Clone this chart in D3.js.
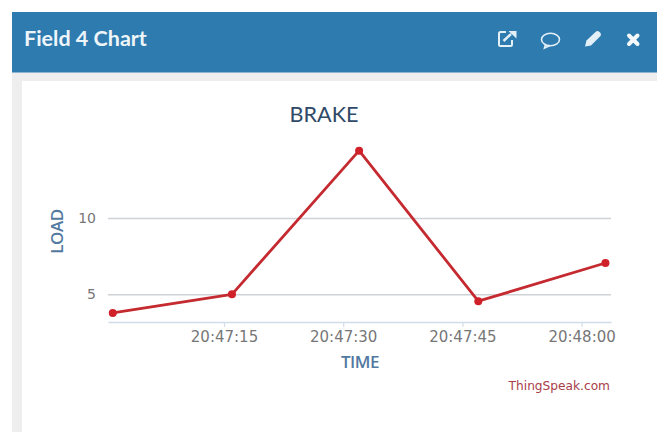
<!DOCTYPE html>
<html>
<head>
<meta charset="utf-8">
<script src="https://cdn.jsdelivr.net/npm/d3@7"></script>
<style>
  html, body { margin: 0; padding: 0; background: #fff; overflow: hidden; }
  svg { display: block; }
</style>
</head>
<body>
<svg id="chart" width="657" height="432"></svg>
<script>
const times = ['20:47:01', '20:47:16', '20:47:32', '20:47:47', '20:48:03'];
const loads = [3.78, 5, 14.4, 4.55, 7.05];
const timeTicks = ['20:47:15', '20:47:30', '20:47:45', '20:48:00'];
const loadTicks = [5, 10];
const timeDomain = ['20:47:00.400', '20:48:03.700'];
const loadDomain = [3.19, 15];

const parseTime = d3.timeParse('%H:%M:%S');
const parseTimeMs = d3.timeParse('%H:%M:%S.%L');
const fmt = d3.timeFormat('%H:%M:%S');

const svg = d3.select('#chart');

// Panel frame
svg.append('rect').attr('x', 12).attr('y', 12).attr('width', 645).attr('height', 420).attr('fill', '#eeeeee');
svg.append('rect').attr('x', 12).attr('y', 12).attr('width', 645).attr('height', 60.5).attr('fill', '#2e7bb0');
svg.append('rect').attr('x', 22).attr('y', 81).attr('width', 635).attr('height', 351).attr('fill', '#ffffff');

svg.append('text')
  .attr('x', 24).attr('y', 45.5)
  .attr('font-family', 'Lato, "Open Sans", sans-serif')
  .attr('font-weight', 700).attr('font-size', 21.5)
  .attr('fill', '#eef5f9')
  .text('Field 4 Chart');

// Header icons
const icons = svg.append('g').attr('fill', 'none').attr('stroke', '#e4f0f7');
// external link
const ext = icons.append('g').attr('transform', 'translate(498,31)').attr('stroke-width', 2);
ext.append('path').attr('d', 'M8 1H2.5Q1 1 1 2.5V13.5Q1 15 2.5 15H12.5Q14 15 14 13.5V9');
ext.append('path').attr('d', 'M5.5 10L13 3').attr('stroke-width', 2.4);
ext.append('path').attr('d', 'M10.5 0H18.5V7.5L10.5 0Z').attr('fill', '#e4f0f7').attr('stroke', 'none');
// comment
const bubble = icons.append('g').attr('transform', 'translate(550.5,39.5)').attr('stroke-width', 1.6);
bubble.append('ellipse').attr('rx', 9).attr('ry', 6.2);
bubble.append('path').attr('d', 'M-5 5L-6 8.5L-0.5 6');
// pencil
icons.append('path')
  .attr('d', 'M585 46.5L586.5 40.5L596 31.5Q597.5 30.5 599 31.5L600.5 33Q601.5 34.5 600.5 36L591 45.5Z')
  .attr('fill', '#e4f0f7').attr('stroke', 'none');
// close
icons.append('path')
  .attr('d', 'M629 35.5L637.5 44M637.5 35.5L629 44')
  .attr('stroke', '#f4f8fb').attr('stroke-width', 4).attr('stroke-linecap', 'round');

// Scales
const x = d3.scaleTime()
  .domain(timeDomain.map(parseTimeMs))
  .range([108, 611]);
const y = d3.scaleLinear()
  .domain(loadDomain)
  .range([322, 141.5]);

const data = times.map((t, i) => ({ time: parseTime(t), load: loads[i] }));

// Gridlines and y labels
const yAxis = d3.axisLeft(y)
  .tickValues(loadTicks)
  .tickSize(-(x.range()[1] - x.range()[0]))
  .tickPadding(12);
const yG = svg.append('g').attr('transform', 'translate(108,0)').call(yAxis);
yG.select('.domain').remove();
yG.selectAll('.tick line').attr('stroke', '#cfd2d6').attr('stroke-width', 1.5);
yG.selectAll('.tick text')
  .attr('font-family', '"DejaVu Sans", sans-serif').attr('font-size', 14)
  .attr('fill', '#777777');

// X axis
const xAxis = d3.axisBottom(x)
  .tickValues(timeTicks.map(parseTime))
  .tickFormat(fmt)
  .tickSize(5)
  .tickSizeOuter(0)
  .tickPadding(4);
const xG = svg.append('g').attr('transform', 'translate(0,322)').call(xAxis);
xG.select('.domain').attr('stroke', '#d3dde9').attr('stroke-width', 1.5);
xG.selectAll('.tick line').attr('stroke', '#d3dde9').attr('stroke-width', 1.2);
xG.selectAll('.tick text')
  .attr('font-family', '"DejaVu Sans", sans-serif').attr('font-size', 15)
  .attr('fill', '#777777');

// Series
svg.append('path')
  .datum(data)
  .attr('fill', 'none')
  .attr('stroke', '#c42a30')
  .attr('stroke-width', 2.8)
  .attr('stroke-linejoin', 'round')
  .attr('d', d3.line().x(d => x(d.time)).y(d => y(d.load)));

svg.selectAll('.pt')
  .data(data)
  .join('circle')
  .attr('class', 'pt')
  .attr('cx', d => x(d.time))
  .attr('cy', d => y(d.load))
  .attr('r', 4)
  .attr('fill', '#d0202a');

// Titles
svg.append('text')
  .attr('x', 324).attr('y', 122)
  .attr('text-anchor', 'middle')
  .attr('font-family', 'Lato, "Open Sans", sans-serif')
  .attr('font-size', 21.6)
  .attr('fill', '#2f4a68')
  .text('BRAKE');

svg.append('text')
  .attr('x', 360).attr('y', 368)
  .attr('text-anchor', 'middle')
  .attr('font-family', '"Open Sans", sans-serif')
  .attr('font-weight', 600).attr('font-size', 17)
  .attr('letter-spacing', -0.5)
  .attr('fill', '#5279a0')
  .text('TIME');

svg.append('text')
  .attr('transform', 'translate(63,231.5) rotate(-90)')
  .attr('text-anchor', 'middle')
  .attr('font-family', '"Open Sans", sans-serif')
  .attr('font-weight', 600).attr('font-size', 17)
  .attr('letter-spacing', -0.5)
  .attr('fill', '#5279a0')
  .text('LOAD');

svg.append('text')
  .attr('x', 610).attr('y', 390)
  .attr('text-anchor', 'end')
  .attr('font-family', '"DejaVu Sans", sans-serif')
  .attr('font-size', 12.2)
  .attr('fill', '#a8404a')
  .text('ThingSpeak.com');
</script>
</body>
</html>
